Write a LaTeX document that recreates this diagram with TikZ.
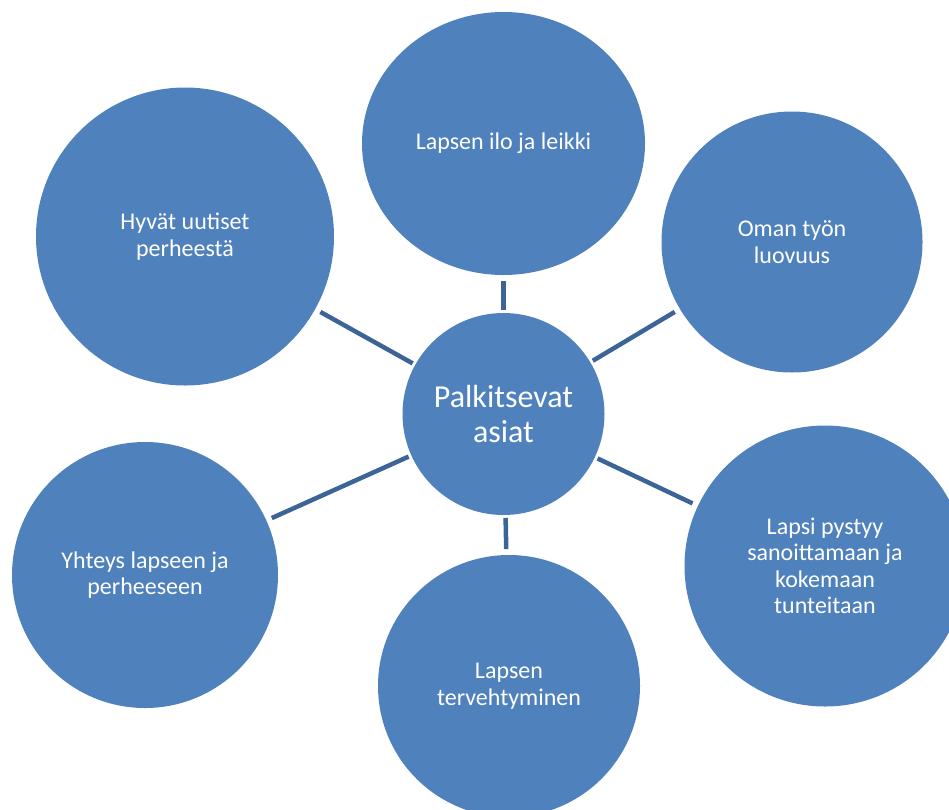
\documentclass[tikz,border=0pt]{standalone}
\usepackage{fontspec}
\setmainfont{Carlito}
\usetikzlibrary{shapes.geometric}
\definecolor{accblue}{HTML}{4F81BD}
\definecolor{linkblue}{HTML}{3C6496}
\begin{document}
\begin{tikzpicture}[x=1pt, y=-1pt, line join=round,
		bubble/.style={circle, fill=accblue, text=white, align=center, inner sep=0pt, outer sep=0pt,
			font=\fontsize{24}{26.5}\selectfont},
		link/.style={draw=linkblue, line width=4.5pt, shorten <=3pt, shorten >=6pt}]
			\clip (0,0) rectangle (949,809);
			%\draw[color=gray!50,dashed] (0,0) grid[step=50] (949,809);
			\node[bubble, minimum size=202, font=\fontsize{32}{35}\selectfont] (mid) at (503.5,414) {Palkitsevat\\asiat};
			\node[bubble, ellipse, minimum width=283, minimum height=263] (ilo) at (503.5,143.5) {Lapsen ilo ja leikki};
			\node[bubble, minimum size=298] (uutiset) at (185,236.5) {Hyvät uutiset\\perheestä};
			\node[bubble, minimum size=261] (luovuus) at (792,242) {Oman työn\\luovuus};
			\node[bubble, minimum size=281] (tunteet) at (825,566) {Lapsi pystyy\\sanoittamaan ja\\kokemaan\\tunteitaan};
			\node[bubble, minimum size=266] (yhteys) at (145,575) {Yhteys lapseen ja\\perheeseen};
			\node[bubble, minimum size=262] (terveys) at (509,686) {Lapsen\\tervehtyminen};
			\foreach \n in {ilo,luovuus,tunteet,terveys,yhteys,uutiset} \draw[link] (mid)--(\n);
		\end{tikzpicture}
\end{document}
